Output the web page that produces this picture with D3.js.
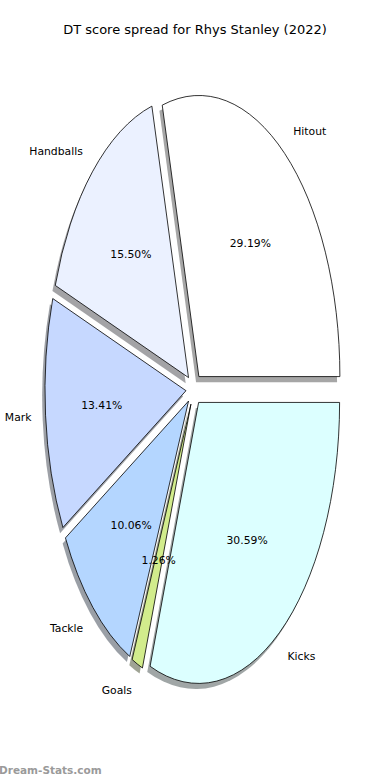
<!DOCTYPE html>
<html>
<head>
<meta charset="utf-8">
<script src="https://cdn.jsdelivr.net/npm/d3@7"></script>
<style>
  html, body { margin: 0; padding: 0; background: #fff; }
  svg { display: block; font-family: "DejaVu Sans", sans-serif; }
</style>
</head>
<body>
<div id="chart"></div>
<script>
// score categories, in drawing order (counter-clockwise from 3 o'clock)
const categories = ['Hitout', 'Handballs', 'Mark', 'Tackle', 'Goals', 'Kicks'];
const shares = [29.19, 15.50, 13.41, 10.06, 1.26, 30.59];
const sliceColors = ['#ffffff', '#ebf1ff', '#c6d8ff', '#b4d6ff', '#d2ec8c', '#dcffff'];

const width = 390, height = 780;
const explode = 0.057;

const svg = d3.select('#chart')
  .append('svg')
  .attr('width', width)
  .attr('height', height);

// data space: unit circle, stretched into an ellipse
const x = d3.scaleLinear().domain([-1, 1]).range([194 - 141, 194 + 141]);
const y = d3.scaleLinear().domain([-1, 1]).range([389.3 + 281, 389.3 - 281]);
const rx = x(1) - x(0);
const ry = y(0) - y(1);

const pie = d3.pie()
  .sort(null)
  .value(d => d.value)
  .startAngle(Math.PI / 2)
  .endAngle(Math.PI / 2 - 2 * Math.PI);

const arcs = pie(categories.map((c, i) => ({ name: c, value: shares[i], color: sliceColors[i] })));

const arc = d3.arc().innerRadius(0).outerRadius(1);

// direction of slice middle in data coords (y up)
arcs.forEach(d => {
  const a = (d.startAngle + d.endAngle) / 2;
  d.ux = Math.sin(a);
  d.uy = Math.cos(a);
});

// shadows first, under every wedge
svg.append('g').selectAll('path')
  .data(arcs)
  .join('path')
  .attr('transform', d => `translate(${x(explode * d.ux - 0.02)},${y(explode * d.uy - 0.02)}) scale(${rx},${ry})`)
  .attr('d', arc)
  .attr('fill', d => {
    const c = d3.rgb(d.data.color);
    return d3.rgb(c.r * 0.3, c.g * 0.3, c.b * 0.3);
  })
  .attr('fill-opacity', 0.5);

svg.append('g').selectAll('path')
  .data(arcs)
  .join('path')
  .attr('transform', d => `translate(${x(explode * d.ux)},${y(explode * d.uy)}) scale(${rx},${ry})`)
  .attr('d', arc)
  .attr('fill', d => d.data.color)
  .attr('stroke', '#000')
  .attr('stroke-width', 0.8)
  .attr('vector-effect', 'non-scaling-stroke');

// category labels
svg.append('g').selectAll('text')
  .data(arcs)
  .join('text')
  .attr('x', d => x((explode + 1.1) * d.ux))
  .attr('y', d => y((explode + 1.1) * d.uy))
  .attr('dy', '0.35em')
  .attr('text-anchor', d => d.ux > 0 ? 'start' : 'end')
  .attr('font-size', '10.8px')
  .attr('fill', '#000')
  .text(d => d.data.name);

// percentages
svg.append('g').selectAll('text')
  .data(arcs)
  .join('text')
  .attr('x', d => x((explode + 0.6) * d.ux))
  .attr('y', d => y((explode + 0.6) * d.uy))
  .attr('dy', '0.35em')
  .attr('text-anchor', 'middle')
  .attr('font-size', '10.8px')
  .attr('fill', '#000')
  .text(d => d.data.value.toFixed(2) + '%');

svg.append('text')
  .attr('x', width / 2)
  .attr('y', 34)
  .attr('text-anchor', 'middle')
  .attr('font-size', '13px')
  .attr('fill', '#000')
  .text('DT score spread for Rhys Stanley (2022)');

svg.append('text')
  .attr('x', -1)
  .attr('y', 774)
  .attr('font-size', '10.5px')
  .attr('font-weight', 'bold')
  .attr('fill', '#9a9a9a')
  .text('Dream-Stats.com');
</script>
</body>
</html>
